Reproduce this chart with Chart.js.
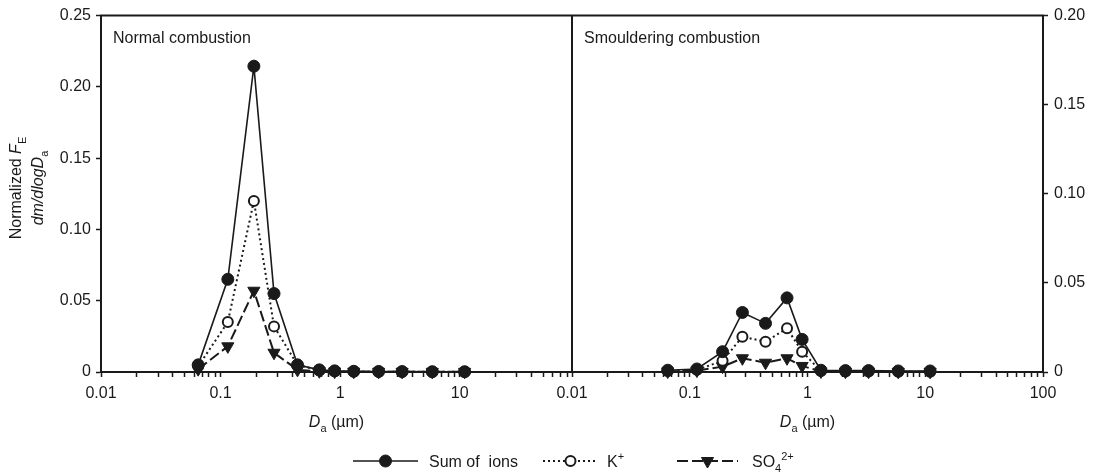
<!DOCTYPE html>
<html>
<head>
<meta charset="utf-8">
<script src="https://cdn.jsdelivr.net/npm/chart.js@4"></script>
<style>
  html, body { margin: 0; padding: 0; background: #fff; }
  #wrap { width: 1099px; height: 474px; position: relative; }
</style>
</head>
<body>
<div id="wrap"><canvas id="fe_chart"></canvas></div>
<script>
// aerodynamic diameter of each stage (um)
const stageDa = [0.065, 0.115, 0.19, 0.28, 0.44, 0.67, 0.9, 1.3, 2.1, 3.3, 5.9, 11];

// normal combustion, left axis
const normalSum = [0.005, 0.065, 0.2145, 0.055, 0.005, 0.0015, 0.0008, 0.0005, 0.0004, 0.0003, 0.0002, 0.0002];
const normalK   = [0.004, 0.035, 0.12, 0.032, 0.005, 0.001, 0.0005, 0.0003, 0.0002, 0.0002, 0.0001, 0.0001];
const normalSO4 = [0.002, 0.018, 0.057, 0.0135, 0.0015, 0.0005, 0.0003, 0.0002, 0.0001, 0.0001, 0.0001, 0.0001];

// smouldering combustion, right axis
const smoulderSum = [0.001, 0.0017, 0.0114, 0.0334, 0.0273, 0.0416, 0.0183, 0.001, 0.0008, 0.0008, 0.0006, 0.0006];
const smoulderK   = [0.0005, 0.0012, 0.0063, 0.0198, 0.017, 0.0245, 0.0114, 0.0005, 0.0003, 0.0003, 0.0002, 0.0002];
const smoulderSO4 = [0.0003, 0.0008, 0.003, 0.0077, 0.0052, 0.0077, 0.0034, 0.0003, 0.0002, 0.0002, 0.0001, 0.0001];

const leftYTicks = [0, 0.05, 0.10, 0.15, 0.20, 0.25];
const rightYTicks = [0, 0.05, 0.10, 0.15, 0.20];
const decadeLabels = [0.01, 0.1, 1, 10, 100];

const ink = '#1a1a1a';
const family = '"Liberation Sans", Arial, Helvetica, sans-serif';
const tickFont = { family: family, size: 16 };

function pts(arr) {
  return stageDa.map((d, i) => ({ x: d, y: arr[i] }));
}

// minor log ticks 1..9 per decade up to max
function logTicks(max) {
  const out = [];
  for (let e = -2; e <= 2; e++) {
    for (let m = 1; m <= 9; m++) {
      const v = Number((m * Math.pow(10, e)).toPrecision(3));
      if (v <= max * 1.0001) out.push({ value: v });
    }
  }
  return out;
}

function isDecade(v) {
  return decadeLabels.some(d => Math.abs(d - v) < d * 1e-6);
}

const sumStyle = {
  borderColor: ink, borderWidth: 1.6,
  pointStyle: 'circle', pointRadius: 6, pointHoverRadius: 6,
  pointBackgroundColor: ink, pointBorderColor: ink, pointBorderWidth: 1
};
const kStyle = {
  borderColor: ink, borderWidth: 2, borderDash: [2, 3],
  pointStyle: 'circle', pointRadius: 5, pointHoverRadius: 5,
  pointBackgroundColor: '#fff', pointBorderColor: ink, pointBorderWidth: 2
};
const so4Style = {
  borderColor: ink, borderWidth: 2, borderDash: [11, 4],
  pointStyle: 'triangle', pointRotation: 180, pointRadius: 7, pointHoverRadius: 7,
  pointBackgroundColor: ink, pointBorderColor: ink, pointBorderWidth: 1
};

function series(label, arr, style, xId, yId) {
  return Object.assign({
    label: label, data: pts(arr), xAxisID: xId, yAxisID: yId,
    fill: false, tension: 0, clip: false, backgroundColor: ink
  }, style);
}

function logAxis(max, showLast) {
  return {
    type: 'logarithmic', position: 'bottom', stack: 'da', stackWeight: 1,
    min: 0.01, max: max,
    afterBuildTicks: s => { s.ticks = logTicks(max); },
    afterFit: s => { s.height = 102; },
    ticks: {
      autoSkip: false, maxRotation: 0, minRotation: 0, padding: 7,
      color: ink, font: tickFont,
      callback: v => (isDecade(v) && (showLast || v < max)) ? String(v) : ''
    },
    grid: { drawOnChartArea: false, tickLength: 5, tickWidth: 1.5, tickColor: ink },
    border: { color: ink, width: 2 }
  };
}

function linAxis(pos, max, list, width) {
  return {
    type: 'linear', position: pos, min: 0, max: max,
    afterBuildTicks: s => { s.ticks = list.map(v => ({ value: v })); },
    afterFit: s => { s.width = width; },
    ticks: {
      padding: pos === 'left' ? 5 : 6, color: ink, font: tickFont,
      callback: v => v === 0 ? '0' : v.toFixed(2)
    },
    grid: { drawOnChartArea: false, tickLength: 5, tickWidth: 1.5, tickColor: ink },
    border: { color: ink, width: 2 }
  };
}

// text with italic / sub / sup pieces
function richText(ctx, parts, x, y, align) {
  const size = 16, small = 11;
  const fontOf = k => {
    const it = k.indexOf('i') >= 0 ? 'italic ' : '';
    const sz = (k.indexOf('sub') >= 0 || k.indexOf('sup') >= 0) ? small : size;
    return it + sz + 'px ' + family;
  };
  let total = 0;
  const widths = parts.map(p => {
    ctx.font = fontOf(p[1] || '');
    const w = ctx.measureText(p[0]).width;
    total += w;
    return w;
  });
  let cx = align === 'center' ? x - total / 2 : x;
  ctx.textAlign = 'left';
  ctx.textBaseline = 'alphabetic';
  parts.forEach((p, i) => {
    const k = p[1] || '';
    ctx.font = fontOf(k);
    let dy = 0;
    if (k.indexOf('sub') >= 0) dy = 5;
    if (k.indexOf('sup') >= 0) dy = -7;
    ctx.fillText(p[0], cx, y + dy);
    cx += widths[i];
  });
}

function legendMarker(ctx, style, x, y) {
  ctx.save();
  ctx.setLineDash([]);
  ctx.fillStyle = style.pointBackgroundColor;
  ctx.strokeStyle = style.pointBorderColor;
  ctx.lineWidth = style.pointBorderWidth;
  const r = style.pointRadius;
  ctx.beginPath();
  if (style.pointStyle === 'triangle') {
    const h = r * Math.sqrt(3) / 2;
    ctx.moveTo(x - h, y - r / 2);
    ctx.lineTo(x + h, y - r / 2);
    ctx.lineTo(x, y + r);
    ctx.closePath();
  } else {
    ctx.arc(x, y, r, 0, Math.PI * 2);
  }
  ctx.fill();
  ctx.stroke();
  ctx.restore();
}

const frameAndText = {
  id: 'frameAndText',
  afterDraw(chart) {
    const { ctx, chartArea: a, scales } = chart;
    const mid = scales.x2.left;
    ctx.save();

    // top border and panel divider
    ctx.strokeStyle = ink;
    ctx.lineWidth = 2;
    ctx.beginPath();
    ctx.moveTo(a.left - 1, a.top);
    ctx.lineTo(a.right + 1, a.top);
    ctx.moveTo(mid, a.top);
    ctx.lineTo(mid, a.bottom);
    ctx.stroke();

    ctx.fillStyle = ink;
    richText(ctx, [['Normal combustion']], a.left + 12, a.top + 27, 'left');
    richText(ctx, [['Smouldering combustion']], mid + 12, a.top + 27, 'left');

    const xTitle = [['D', 'i'], ['a', 'sub'], [' (\u00b5m)']];
    richText(ctx, xTitle, (a.left + mid) / 2, a.bottom + 55, 'center');
    richText(ctx, xTitle, (mid + a.right) / 2, a.bottom + 55, 'center');

    // y title, two rotated lines
    const yc = 188;
    ctx.save();
    ctx.translate(21, yc);
    ctx.rotate(-Math.PI / 2);
    richText(ctx, [['Normalized '], ['F', 'i'], ['E', 'sub']], 0, 0, 'center');
    ctx.restore();
    ctx.save();
    ctx.translate(43, yc);
    ctx.rotate(-Math.PI / 2);
    richText(ctx, [['dm/dlogD', 'i'], ['a', 'sub']], 0, 0, 'center');
    ctx.restore();

    // legend row
    const ly = 461;
    const items = [
      { style: sumStyle, x0: 353, x1: 418, tx: 429, text: [['Sum of  ions']] },
      { style: kStyle, x0: 543, x1: 598, tx: 607, text: [['K'], ['+', 'sup']] },
      { style: so4Style, x0: 677, x1: 738, tx: 752, text: [['SO'], ['4', 'sub'], ['2+', 'sup']] }
    ];
    items.forEach(it => {
      ctx.save();
      ctx.strokeStyle = it.style.borderColor;
      ctx.lineWidth = it.style.borderWidth;
      ctx.setLineDash(it.style.borderDash || []);
      ctx.beginPath();
      ctx.moveTo(it.x0, ly);
      ctx.lineTo(it.x1, ly);
      ctx.stroke();
      ctx.restore();
      legendMarker(ctx, it.style, (it.x0 + it.x1) / 2, ly);
      ctx.fillStyle = ink;
      richText(ctx, it.text, it.tx, ly + 6, 'left');
    });

    ctx.restore();
  }
};

const canvas = document.getElementById('fe_chart');
new Chart(canvas, {
  type: 'line',
  data: {
    datasets: [
      series('Sum of ions', normalSum, sumStyle, 'x', 'y'),
      series('K+', normalK, kStyle, 'x', 'y'),
      series('SO4 2+', normalSO4, so4Style, 'x', 'y'),
      series('Sum of ions', smoulderSum, sumStyle, 'x2', 'y2'),
      series('K+', smoulderK, kStyle, 'x2', 'y2'),
      series('SO4 2+', smoulderSO4, so4Style, 'x2', 'y2')
    ]
  },
  options: {
    responsive: true,
    maintainAspectRatio: false,
    animation: false,
    layout: { padding: { top: 15, left: 0, right: 0, bottom: 0 } },
    plugins: { legend: { display: false }, tooltip: { enabled: false } },
    scales: {
      x: logAxis(87, false),
      x2: logAxis(100, true),
      y: linAxis('left', 0.25, leftYTicks, 101),
      y2: linAxis('right', 0.20, rightYTicks, 56)
    }
  },
  plugins: [frameAndText]
});
</script>
</body>
</html>
